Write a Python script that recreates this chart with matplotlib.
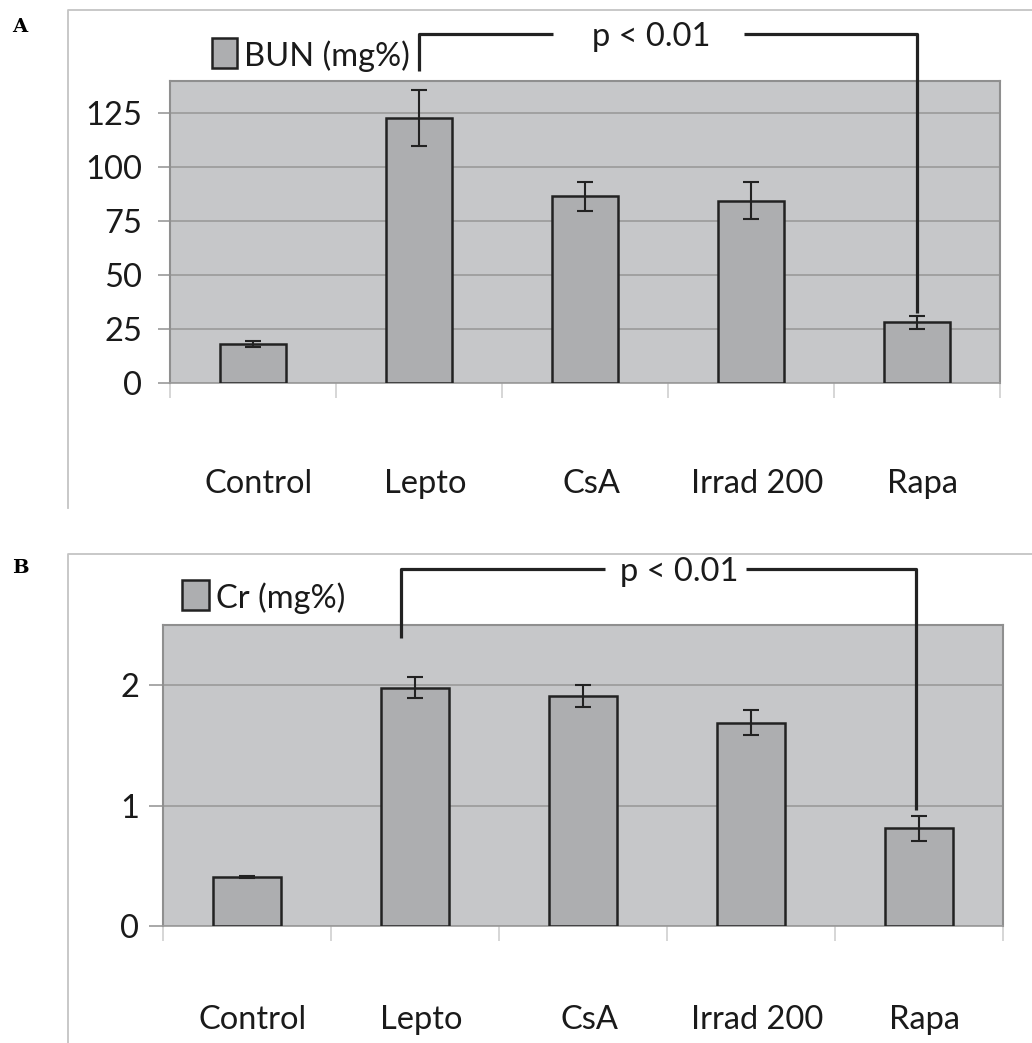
import matplotlib
matplotlib.use("Agg")
import matplotlib.pyplot as plt
from matplotlib.patches import Rectangle
from matplotlib.lines import Line2D
from matplotlib.transforms import ScaledTranslation

categories = ["Control", "Lepto", "CsA", "Irrad 200", "Rapa"]
bun_values = [18.1, 123.0, 86.5, 84.5, 28.2]
bun_errors = [1.6, 13.0, 6.7, 8.6, 3.0]
cr_values = [0.405, 1.98, 1.91, 1.69, 0.81]
cr_errors = [0.01, 0.09, 0.09, 0.10, 0.10]
bun_ticks = [0, 25, 50, 75, 100, 125]
cr_ticks = [0, 1, 2]
p_label = "p < 0.01"

W, H = 1032, 1043
DPI = 100
FONT = ["Lato", "DejaVu Sans"]
FS = 23.5
fig = plt.figure(figsize=(W / DPI, H / DPI), dpi=DPI)


def fx(x):
    return x / W


def fy(y):
    return 1 - y / H


BG = "#c6c7c9"
BAR = "#adaeb0"
GRID = "#9a9a9a"
DARK = "#222222"
TXT = "#1a1a1a"


def panel(rect_px, values, errors, ticks, ylim, ylabpad, ytl, xlabpad, legend_px, legend_text,
          frame_px, letter_px, letter, bracket):
    l, t, r, b = rect_px
    ax = fig.add_axes([fx(l), fy(b), fx(r - l), (b - t) / H])
    ax.set_facecolor(BG)
    x = list(range(len(categories)))
    ax.bar(x, values, width=0.4, color=BAR, edgecolor=DARK, linewidth=1.8, zorder=3)
    ax.errorbar(x, values, yerr=errors, fmt="none", ecolor=DARK, elinewidth=1.5,
                capsize=6, capthick=1.5, zorder=4)
    ax.set_xlim(-0.5, len(categories) - 0.5)
    ax.set_ylim(*ylim)
    ax.set_yticks(ticks)
    ax.set_yticklabels([str(v) for v in ticks], fontfamily=FONT, fontsize=FS, color=TXT)
    ax.tick_params(axis="y", length=ytl, width=1.2, color=GRID, pad=ylabpad)
    ax.set_xticks([i - 0.5 for i in range(len(categories) + 1)])
    ax.set_xticklabels([])
    ax.tick_params(axis="x", which="major", length=11, width=1.2, color="#d0d0d0")
    ax.set_xticks(x, minor=True)
    ax.set_xticklabels(categories, minor=True, fontfamily=FONT, fontsize=FS, color=TXT)
    ax.tick_params(axis="x", which="minor", length=0, pad=xlabpad)
    shift = ScaledTranslation(6 / DPI, 0, fig.dpi_scale_trans)
    for lab in ax.get_xticklabels(minor=True):
        lab.set_transform(lab.get_transform() + shift)
    ax.grid(axis="y", color=GRID, linewidth=1.2, zorder=0)
    ax.set_axisbelow(True)
    for s in ["top", "right", "left"]:
        ax.spines[s].set_color("#8f8f8f")
        ax.spines[s].set_linewidth(1.5)
    ax.spines["bottom"].set_color(GRID)
    ax.spines["bottom"].set_linewidth(1.2)

    # legend
    lx0, ly0, lx1, ly1 = legend_px
    fig.patches.append(Rectangle((fx(lx0), fy(ly1)), fx(lx1 - lx0), (ly1 - ly0) / H,
                                 transform=fig.transFigure, facecolor=BAR,
                                 edgecolor=DARK, linewidth=1.8))
    fig.text(fx(lx1 + 7), fy((ly0 + ly1) / 2), legend_text, fontfamily=FONT, fontsize=FS,
             ha="left", va="center_baseline", color=TXT)

    # frame
    f0, f1, f2, f3 = frame_px
    fig.lines.append(Line2D([fx(f2), fx(f0), fx(f0)], [fy(f1), fy(f1), fy(f3)],
                            transform=fig.transFigure, color="#c4c4c4", linewidth=1.3))
    fig.text(fx(letter_px[0]), fy(letter_px[1]), letter, fontfamily="DejaVu Serif",
             fontweight="bold", fontsize=14, ha="left", va="center")

    # significance bracket
    xl, xr, ytop, yl, yr, gap_l, gap_r, tx = bracket
    kw = dict(color=DARK, linewidth=2.3, clip_on=False, solid_capstyle="butt", zorder=5)
    ax.plot([xl, xl, gap_l], [yl, ytop, ytop], **kw)
    ax.plot([gap_r, xr, xr], [ytop, ytop, yr], **kw)
    ax.text(tx, ytop, p_label, fontfamily=FONT, fontsize=FS, ha="center",
            va="center_baseline", color=TXT, clip_on=False)
    return ax


# panel A (pixel geometry)
panel((170, 81, 1000, 383), bun_values, bun_errors, bun_ticks, (0, 140), 11, 9, 62,
      (212, 38, 237, 68), "BUN (mg%)", (68, 10, 1040, 508), (12, 27), "A",
      (1.0, 4.0, 162, 144.5, 32.5, 1.81, 2.96, 2.40))

# panel B
panel((163, 625, 1003, 926), cr_values, cr_errors, cr_ticks, (0, 2.5), 7, 10, 57,
      (182, 580, 209, 610), "Cr (mg%)", (68, 554, 1040, 1050), (12, 568), "B",
      (0.917, 3.98, 2.965, 2.39, 0.96, 2.13, 2.97, 2.57))

fig.savefig("out.png", dpi=DPI)
